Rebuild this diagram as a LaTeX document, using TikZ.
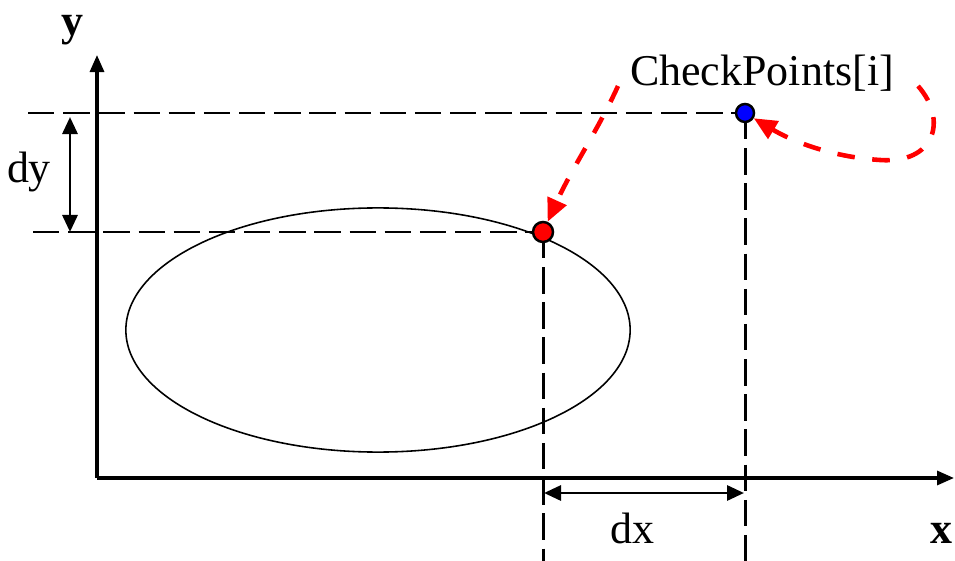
\documentclass[tikz,border=0pt]{standalone}
\usepackage{fontspec}
\setmainfont{Liberation Serif}
\usepackage{tikz}
\usetikzlibrary{arrows.meta,positioning,calc}
\definecolor{ink}{HTML}{000000}
\definecolor{trailred}{HTML}{FF0000}
\definecolor{ptblue}{HTML}{0000FF}
\tikzset{
  axis/.style={-{Triangle[length=1.7mm,width=1.4mm]},line width=0.9pt,ink},
  guide/.style={dash pattern=on 7.5pt off 2.5pt,line width=0.85pt,ink},
  measure/.style={{Triangle[length=1.7mm,width=1.5mm]}-{Triangle[length=1.7mm,width=1.5mm]},
                  line width=0.85pt,ink},
  trail/.style={-{Triangle[length=2.3mm,width=2mm]},dash pattern=on 5pt off 5pt,
                line width=1.3pt,trailred},
  dot/.style={circle,draw=ink,line width=0.7pt,inner sep=0pt,minimum size=0.18cm},
  lbl/.style={font=\fontsize{12.5}{15}\selectfont,ink,inner sep=0pt},
}

\begin{document}
\begin{tikzpicture}[x=0.01cm,y=-0.01cm]
  \useasboundingbox(0,0)rectangle(955,561);
  \coordinate(O)at(97,478);
  \coordinate(xend)at(954,478);
  \coordinate(yend)at(97,55);
  \coordinate(P)at(543,232);
  \coordinate(Q)at(745,113);
  \coordinate(bot)at(0,561);
  \coordinate(gy1)at(28,113);
  \coordinate(gy2)at(33,232);
  \draw[axis](O)--(xend);
  \draw[axis](O)--(yend);
  \draw[line width=0.45pt,ink](378,330)ellipse[x radius=2.52cm,y radius=1.22cm];
  \draw[guide](gy1)--(Q);
  \draw[guide](gy2)--(P);
  \draw[guide](P)--(P|-bot);
  \draw[guide](Q)--(Q|-bot);
  \coordinate(dytop)at(70,117);
  \coordinate(dybot)at(70,232);
  \draw[measure](dytop)--(dybot);
  \coordinate(dxl)at(544,493);
  \coordinate(dxr)at(744,493);
  \draw[measure](dxl)--(dxr);
  \node[dot,fill=trailred,minimum size=0.2cm](cur)at(P){};
  \node[dot,fill=ptblue](chk)at(Q){};
  \node[lbl,font=\fontsize{12.5}{15}\selectfont\bfseries,anchor=base](ylbl)at(72,36){y};
  \node[lbl,font=\fontsize{12.5}{15}\selectfont\bfseries,anchor=base east](xlbl)at(953,543){x};
  \node[lbl,anchor=base](dy)at(29,183){dy};
  \node[lbl,anchor=base](dx)at(632,543){dx};
  \node[lbl,anchor=base](cplbl)at(762,86){CheckPoints[i]};
  \coordinate(t1)at(618,86);
  \coordinate(t2)at(918,86);
  \draw[trail](t1)..controls(598,130)and(572,168)..(cur);
  \draw[trail](t2)..controls(948,120)and(935,164)..(880,160)
    ..controls(830,157)and(790,140)..(chk);
\end{tikzpicture}
\end{document}
